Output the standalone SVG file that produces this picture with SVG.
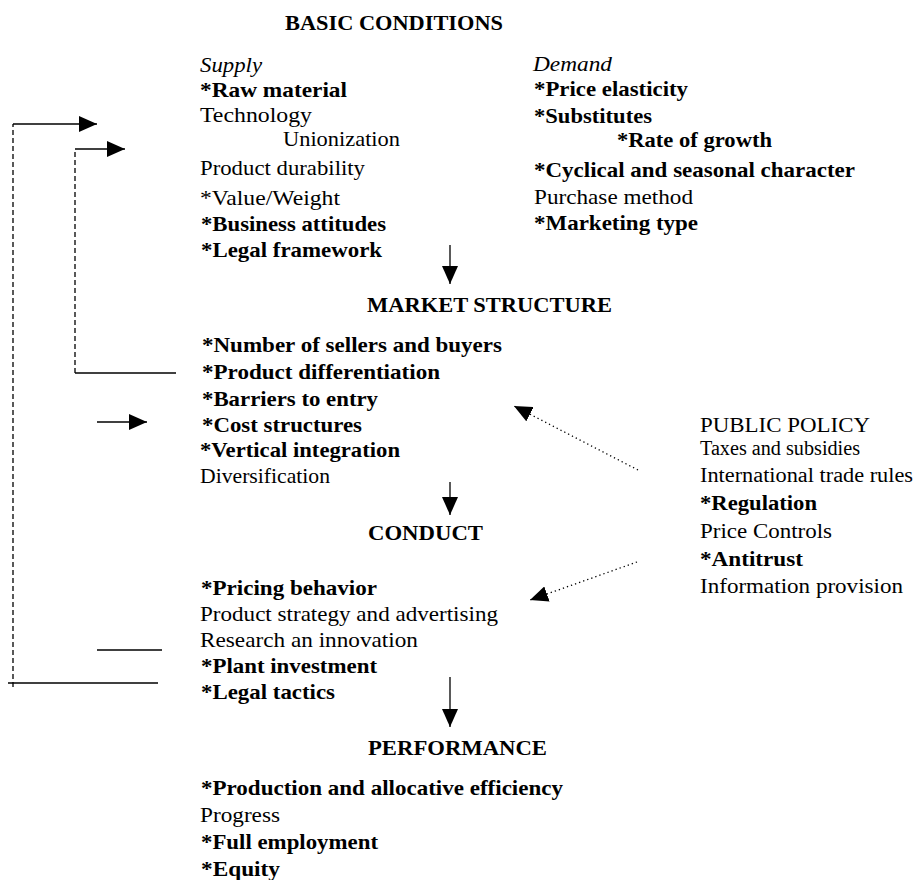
<svg xmlns="http://www.w3.org/2000/svg" width="916" height="880" viewBox="0 0 916 880">
<style>
text{font-family:"Liberation Serif","Times New Roman",serif;fill:#000}
.h{font-size:22px;font-weight:bold}
.b{font-size:22px;font-weight:bold}
.r{font-size:22px}
.i{font-size:22px;font-style:italic}
.pr{font-size:20px}
.pb{font-size:20px;font-weight:bold}
.solid{stroke:#000;stroke-width:1.3;fill:none}
.dash{stroke:#000;stroke-width:1.3;fill:none;stroke-dasharray:5,3}
.dot{stroke:#000;stroke-width:1.3;fill:none;stroke-dasharray:1.3,3}
</style>
<defs>
<marker id="ah" viewBox="0 0 18 16" refX="18" refY="8" markerWidth="18" markerHeight="16" markerUnits="userSpaceOnUse" orient="auto">
<path d="M0,0 L18,8 L0,16 z" fill="#000"/>
</marker>
</defs>
<rect width="916" height="880" fill="#fff"/>

<g id="basic-conditions">
<text class="h" x="285" y="30" textLength="218" lengthAdjust="spacingAndGlyphs">BASIC CONDITIONS</text>
<g id="supply">
<text class="i" x="200" y="72" textLength="62" lengthAdjust="spacingAndGlyphs">Supply</text>
<text class="b" x="200" y="97" textLength="147" lengthAdjust="spacingAndGlyphs">*Raw material</text>
<text class="r" x="200" y="122" textLength="112" lengthAdjust="spacingAndGlyphs">Technology</text>
<text class="r" x="283" y="146" textLength="117" lengthAdjust="spacingAndGlyphs">Unionization</text>
<text class="r" x="200" y="175" textLength="165" lengthAdjust="spacingAndGlyphs">Product durability</text>
<text class="r" x="200" y="205" textLength="140" lengthAdjust="spacingAndGlyphs">*Value/Weight</text>
<text class="b" x="201" y="231" textLength="185" lengthAdjust="spacingAndGlyphs">*Business attitudes</text>
<text class="b" x="201" y="257" textLength="181" lengthAdjust="spacingAndGlyphs">*Legal framework</text>
</g>
<g id="demand">
<text class="i" x="533" y="71" textLength="79" lengthAdjust="spacingAndGlyphs">Demand</text>
<text class="b" x="534" y="96" textLength="154" lengthAdjust="spacingAndGlyphs">*Price elasticity</text>
<text class="b" x="534" y="123" textLength="118" lengthAdjust="spacingAndGlyphs">*Substitutes</text>
<text class="b" x="617" y="147" textLength="155" lengthAdjust="spacingAndGlyphs">*Rate of growth</text>
<text class="b" x="534" y="177" textLength="321" lengthAdjust="spacingAndGlyphs">*Cyclical and seasonal character</text>
<text class="r" x="534" y="204" textLength="159" lengthAdjust="spacingAndGlyphs">Purchase method</text>
<text class="b" x="534" y="230" textLength="164" lengthAdjust="spacingAndGlyphs">*Marketing type</text>
</g>
</g>

<g id="market-structure">
<text class="h" x="367" y="312" textLength="245" lengthAdjust="spacingAndGlyphs">MARKET STRUCTURE</text>
<text class="b" x="202" y="352" textLength="300" lengthAdjust="spacingAndGlyphs">*Number of sellers and buyers</text>
<text class="b" x="202" y="379" textLength="238" lengthAdjust="spacingAndGlyphs">*Product differentiation</text>
<text class="b" x="202" y="406" textLength="176" lengthAdjust="spacingAndGlyphs">*Barriers to entry</text>
<text class="b" x="202" y="432" textLength="160" lengthAdjust="spacingAndGlyphs">*Cost structures</text>
<text class="b" x="200" y="457" textLength="200" lengthAdjust="spacingAndGlyphs">*Vertical integration</text>
<text class="r" x="200" y="483" textLength="130" lengthAdjust="spacingAndGlyphs">Diversification</text>
</g>

<g id="conduct">
<text class="h" x="368" y="540" textLength="115" lengthAdjust="spacingAndGlyphs">CONDUCT</text>
<text class="b" x="201" y="595" textLength="176" lengthAdjust="spacingAndGlyphs">*Pricing behavior</text>
<text class="r" x="200" y="621" textLength="298" lengthAdjust="spacingAndGlyphs">Product strategy and advertising</text>
<text class="r" x="200" y="647" textLength="218" lengthAdjust="spacingAndGlyphs">Research an innovation</text>
<text class="b" x="201" y="673" textLength="176" lengthAdjust="spacingAndGlyphs">*Plant investment</text>
<text class="b" x="201" y="699" textLength="134" lengthAdjust="spacingAndGlyphs">*Legal tactics</text>
</g>

<g id="performance">
<text class="h" x="368" y="755" textLength="179" lengthAdjust="spacingAndGlyphs">PERFORMANCE</text>
<text class="b" x="201" y="795" textLength="362" lengthAdjust="spacingAndGlyphs">*Production and allocative efficiency</text>
<text class="r" x="200" y="822" textLength="80" lengthAdjust="spacingAndGlyphs">Progress</text>
<text class="b" x="201" y="849" textLength="177" lengthAdjust="spacingAndGlyphs">*Full employment</text>
<text class="b" x="201" y="876" textLength="79" lengthAdjust="spacingAndGlyphs">*Equity</text>
</g>

<g id="public-policy">
<text class="pr" x="700" y="432" textLength="170" lengthAdjust="spacingAndGlyphs">PUBLIC POLICY</text>
<text class="pr" x="700" y="455" textLength="160" lengthAdjust="spacingAndGlyphs">Taxes and subsidies</text>
<text class="pr" x="700" y="482" textLength="213" lengthAdjust="spacingAndGlyphs">International trade rules</text>
<text class="pb" x="700" y="510" textLength="117" lengthAdjust="spacingAndGlyphs">*Regulation</text>
<text class="pr" x="700" y="538" textLength="132" lengthAdjust="spacingAndGlyphs">Price Controls</text>
<text class="pb" x="700" y="566" textLength="103" lengthAdjust="spacingAndGlyphs">*Antitrust</text>
<text class="pr" x="700" y="593" textLength="203" lengthAdjust="spacingAndGlyphs">Information provision</text>
</g>

<g id="connectors">
<line class="solid" x1="450" y1="245" x2="450" y2="284" marker-end="url(#ah)"/>
<line class="solid" x1="450" y1="482" x2="450" y2="515" marker-end="url(#ah)"/>
<line class="solid" x1="450" y1="677" x2="450" y2="727" marker-end="url(#ah)"/>
<path class="dash" d="M13,687 V124"/>
<line class="solid" x1="13" y1="124" x2="97" y2="124" marker-end="url(#ah)"/>
<line class="solid" x1="8" y1="683" x2="158" y2="683"/>
<path class="dash" d="M75,373 V149"/>
<line class="solid" x1="75" y1="149" x2="125" y2="149" marker-end="url(#ah)"/>
<line class="solid" x1="75" y1="373" x2="176" y2="373"/>
<line class="solid" x1="97" y1="422" x2="147" y2="422" marker-end="url(#ah)"/>
<line class="solid" x1="97" y1="650" x2="162" y2="650"/>
<line class="dot" x1="638" y1="470" x2="514" y2="406" marker-end="url(#ah)"/>
<line class="dot" x1="637" y1="562" x2="530" y2="600" marker-end="url(#ah)"/>
</g>
</svg>
